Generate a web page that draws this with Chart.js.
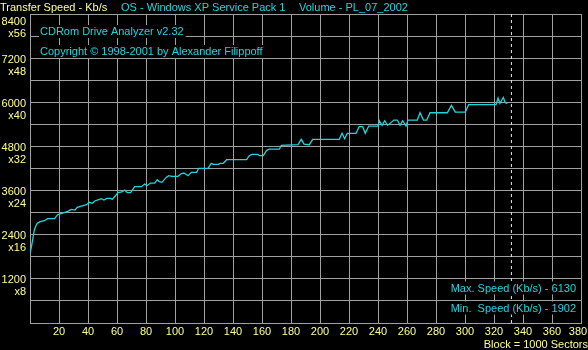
<!DOCTYPE html>
<html>
<head>
<meta charset="utf-8">
<script src="https://cdn.jsdelivr.net/npm/chart.js@4.4.1/dist/chart.umd.min.js"></script>
<style>
  html, body { margin: 0; padding: 0; background: #000; overflow: hidden; }
  canvas { display: block; background: #000; }
</style>
</head>
<body>
<canvas id="c" width="588" height="350"></canvas>
<script>
// ---- data ----
const blocks = [0, 1, 2, 3, 4, 5, 7, 10, 12, 17, 19, 22, 26, 28.5, 31, 32.6, 35.4, 39, 41, 43,
  45, 48, 49.2, 51, 53, 55.6, 56.6, 58.8, 60.7, 63.4, 65.3, 67.1, 69.4, 72.2, 76.8, 79.1, 80.7, 83, 86, 87.8,
  89.2, 91, 93.8, 95.6, 97.9, 102, 104.3, 106.2, 109, 111.3, 114.9, 116.3, 122.8, 125, 126.4, 130.1, 131, 133.3, 135.6, 149.4,
  151.2, 153.1, 157.2, 158.2, 160.9, 163.2, 165, 172, 173.3, 184.8, 187.1, 189, 192.6, 195, 213.3, 215.2, 217, 218.8, 224.8, 227.1,
  229.4, 231.2, 233.6, 240, 240.9, 242.8, 244.6, 246.6, 251, 253.3, 255.2, 257, 259.3, 260.7, 267.1, 269, 271.3, 273.6, 275.9, 287.8,
  290.6, 293.3, 300.2, 302.5, 321.4, 322.8, 324.1, 326.4, 327.8, 329.2];
const speeds = [1902, 2074, 2300, 2528, 2636, 2710, 2754, 2780, 2835, 2835, 2944, 2980, 3036, 3090, 3071, 3145, 3180, 3216, 3280, 3253,
  3324, 3362, 3380, 3343, 3389, 3389, 3362, 3452, 3542, 3561, 3615, 3542, 3542, 3705, 3705, 3778, 3730, 3805, 3805, 3895,
  3841, 3824, 3950, 4004, 3986, 3986, 4058, 4077, 4004, 4096, 4096, 4205, 4205, 4341, 4313, 4313, 4341, 4341, 4439, 4439,
  4548, 4584, 4584, 4548, 4548, 4693, 4725, 4725, 4830, 4847, 4993, 4865, 4847, 4993, 4993, 5156, 5010, 5156, 5156, 5336,
  5336, 5156, 5354, 5354, 5499, 5373, 5499, 5372, 5517, 5517, 5373, 5499, 5354, 5517, 5517, 5716, 5517, 5517, 5716, 5716,
  5916, 5735, 5735, 5934, 5934, 6116, 5971, 6130, 5988, 5971];
const endBlock = [332, 332];
const endSpeed = [0, 8400];
const blockTicks = [20, 40, 60, 80, 100, 120, 140, 160, 180, 200, 220, 240, 260, 280, 300, 320, 340, 360, 380];
const speedTicks = [1200, 2400, 3600, 4800, 6000, 7200, 8400];
const speedMultipliers = ['x8', 'x16', 'x24', 'x32', 'x40', 'x48', 'x56'];
const maxSpeed = 6130;
const minSpeed = 1902;

// ---- styling ----
const YELLOW = '#FFFF90';
const CYAN = '#1ED6DE';
const GRID = '#A0A0A0';
const FONT = '"Liberation Sans", Arial, sans-serif';

const textPlugin = {
  id: 'texts',
  afterDraw(chart) {
    const ctx = chart.ctx;
    ctx.save();
    ctx.font = '11px ' + FONT;
    ctx.textBaseline = 'alphabetic';
    function boxed(text, x, base, align) {
      ctx.textAlign = align;
      const w = ctx.measureText(text).width;
      const left = align === 'right' ? x - w : x;
      ctx.fillStyle = '#000';
      ctx.fillRect(left - 1, base - 10, w + 3, 13);
      ctx.fillStyle = CYAN;
      ctx.fillText(text, x, base);
    }
    ctx.textAlign = 'left';
    ctx.fillStyle = YELLOW;
    ctx.fillText('Transfer Speed - Kb/s', 0, 11);
    ctx.fillStyle = CYAN;
    ctx.fillText('OS - Windows XP Service Pack 1', 121, 11);
    ctx.fillText('Volume - PL_07_2002', 299, 11);
    boxed('CDRom Drive Analyzer v2.32', 40, 35, 'left');
    boxed('Copyright \u00A9 1998-2001 by Alexander Filippoff', 40, 55, 'left');
    boxed('Max. Speed (Kb/s) - ' + maxSpeed, 576, 291.5, 'right');
    boxed('Min.  Speed (Kb/s) - ' + minSpeed, 576, 311.5, 'right');
    ctx.textAlign = 'right';
    ctx.fillStyle = YELLOW;
    ctx.fillText('Block = 1000 Sectors', 588, 347.5);
    ctx.restore();
  }
};

new Chart(document.getElementById('c'), {
  type: 'line',
  data: {
    datasets: [
      {
        data: blocks.map((b, i) => ({ x: b, y: speeds[i] })),
        borderColor: CYAN,
        borderWidth: 1.3,
        pointRadius: 0,
        tension: 0,
        fill: false
      },
      {
        data: endBlock.map((b, i) => ({ x: b, y: endSpeed[i] })),
        borderColor: '#E8E8E8',
        borderWidth: 1,
        borderDash: [3, 3],
        pointRadius: 0,
        fill: false
      }
    ]
  },
  options: {
    responsive: false,
    animation: false,
    devicePixelRatio: 1,
    layout: { padding: { left: 0, right: 7, top: 14, bottom: 0 } },
    plugins: { legend: { display: false }, tooltip: { enabled: false }, title: { display: false } },
    scales: {
      x: {
        type: 'linear',
        min: 0, max: 380,
        afterFit(s) { s.height = 27; s.paddingLeft = 0; s.paddingRight = 0; },
        grid: { color: GRID, lineWidth: 1, drawTicks: false },
        border: { display: true, color: GRID },
        ticks: {
          stepSize: 20,
          autoSkip: false,
          maxRotation: 0,
          padding: 3,
          color: YELLOW,
          font: { family: FONT, size: 11, lineHeight: 1.1 },
          callback(v) {
            if (!blockTicks.includes(v)) return '';
            return v === blockTicks[blockTicks.length - 1] ? v + '  ' : String(v);
          }
        }
      },
      y: {
        min: 0, max: 8400,
        afterFit(s) { s.width = 30; s.paddingTop = 0; s.paddingBottom = 0; },
        grid: { color: GRID, lineWidth: 1, drawTicks: false },
        border: { display: true, color: GRID },
        ticks: {
          stepSize: 600,
          autoSkip: false,
          padding: 4,
          labelOffset: 7.5,
          color: YELLOW,
          font: { family: FONT, size: 11, lineHeight: 1.1 },
          callback(v) {
            const i = speedTicks.indexOf(v);
            if (i < 0) return '';
            const lbl = [String(v), speedMultipliers[i]];
            // top label sits lower so it stays inside the frame
            return i === speedTicks.length - 1 ? [''].concat(lbl) : lbl;
          }
        }
      }
    }
  },
  plugins: [textPlugin]
});
</script>
</body>
</html>
